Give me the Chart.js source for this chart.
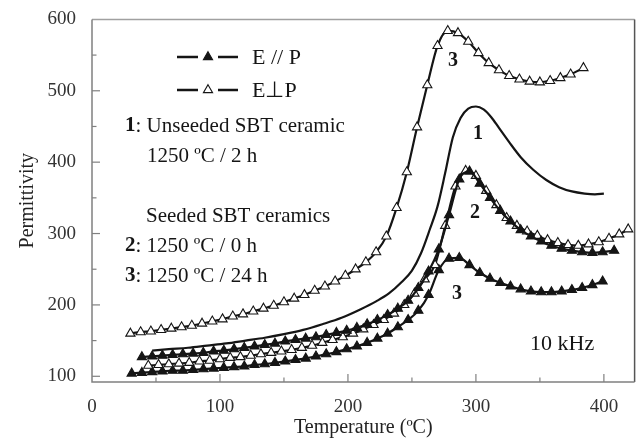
<!DOCTYPE html>
<html><head><meta charset="utf-8">
<script src="https://cdn.jsdelivr.net/npm/chart.js@4.4.0/dist/chart.umd.min.js"></script>
<style>html,body{margin:0;padding:0;background:#fff;}</style>
</head><body>
<canvas id="c" width="641" height="446"></canvas>
<script>
// ---- tick labels ----
const xTickValues = [0,50,100,150,200,250,300,350,400];
const yTickValues = [100,150,200,250,300,350,400,450,500,550,600];

// ---- curve 1: unseeded SBT (solid line) ----
const temp1 = [47,60,75,90,105,120,135,150,165,180,195,210,222,232,242,250,257,264,270,276,282,288,294,300,306,312,318,326,335,345,355,365,375,385,393,400];
const perm1 = [136,138,140,143,146,150,154,159,165,173,182,194,205,216,232,248,272,306,338,385,435,462,475,478,474,463,448,428,407,389,375,365,359,356,355,356];

// ---- curve 2: seeded 1250 C / 0 h ----
const temp2Par = [39,47,55,63,71,79,87,95,103,111,119,127,135,143,151,159,167,175,183,191,199,207,215,223,231,239,247,255,263,271,279,287,295,303,311,319,327,335,343,351,359,367,375,383,391,399,408];
const perm2Par = [127,128,129,130,131,132,133,135,136,138,140,142,144,146,149,151,153,155,158,161,164,168,173,179,186,195,206,224,247,278,326,376,387,370,350,332,317,305,296,289,283,279,276,274,273,274,276];
const temp2Perp = [44,52,60,68,76,84,92,100,108,116,124,132,140,148,156,164,172,180,188,196,204,212,220,228,236,244,252,260,268,276,284,292,300,308,316,324,332,340,348,356,364,372,380,388,396,404,412,419];
const perm2Perp = [115,116,117,118,119,121,122,124,126,127,129,131,133,135,137,140,143,147,151,155,160,166,172,179,188,200,216,236,256,311,366,388,381,360,340,322,311,303,297,291,287,284,283,285,288,293,299,306];

// ---- curve 3: seeded 1250 C / 24 h ----
const temp3Par = [31,39,47,55,63,71,79,87,95,103,111,119,127,135,143,151,159,167,175,183,191,199,207,215,223,231,239,247,255,263,271,279,287,295,303,311,319,327,335,343,351,359,367,375,383,391,399];
const perm3Par = [104,105,106,107,108,108,109,110,111,112,113,114,116,117,119,121,123,125,128,131,134,138,142,147,153,160,169,179,192,214,249,265,266,256,245,237,231,226,222,219,218,218,219,221,224,228,233];
const temp3Perp = [30,38,46,54,62,70,78,86,94,102,110,118,126,134,142,150,158,166,174,182,190,198,206,214,222,230,238,246,254,262,270,278,286,294,302,310,318,326,334,342,350,358,366,374,384];
const perm3Perp = [160,162,163,165,167,169,171,174,177,180,184,187,191,195,199,204,209,214,220,226,233,241,250,260,274,296,336,386,449,508,563,584,581,569,553,539,529,521,516,513,512,514,518,523,532];

const pts = (xs, ys) => xs.map((x, i) => ({x: x, y: ys[i]}));
const SERIF = '"Liberation Serif", "Times New Roman", serif';
const INK = '#151515';

function ds(xs, ys, kind) {
  return {
    data: pts(xs, ys),
    borderColor: INK,
    borderWidth: 2.2,
    cubicInterpolationMode: 'monotone',
    fill: false,
    pointStyle: 'triangle',
    pointRadius: kind === 'none' ? 0 : 5.3,
    pointBorderWidth: 1.1,
    pointBorderColor: INK,
    pointBackgroundColor: kind === 'filled' ? INK : '#ffffff'
  };
}

const decor = {
  id: 'decor',
  afterDatasetsDraw(chart) {
    const {ctx, chartArea: a, scales: {x, y}} = chart;
    ctx.save();
    // frame
    ctx.lineWidth = 1.5;
    ctx.strokeStyle = '#a0a0a0';
    ctx.beginPath(); ctx.moveTo(a.left, a.top); ctx.lineTo(a.right, a.top); ctx.stroke();
    ctx.strokeStyle = '#555';
    ctx.beginPath(); ctx.moveTo(a.right, a.top); ctx.lineTo(a.right, a.bottom); ctx.stroke();
    ctx.strokeStyle = '#808080';
    ctx.beginPath(); ctx.moveTo(a.left, a.top); ctx.lineTo(a.left, a.bottom); ctx.lineTo(a.right, a.bottom); ctx.stroke();
    // inward ticks
    ctx.lineWidth = 1.2;
    ctx.strokeStyle = '#808080';
    xTickValues.forEach(v => {
      if (v === x.min) return;
      const px = x.getPixelForValue(v);
      const len = v % 100 === 0 ? 8 : 4.5;
      ctx.beginPath(); ctx.moveTo(px, a.bottom); ctx.lineTo(px, a.bottom - len); ctx.stroke();
    });
    yTickValues.forEach(v => {
      if (v === y.max) return;
      const py = y.getPixelForValue(v);
      const len = v % 100 === 0 ? 8 : 4.5;
      ctx.beginPath(); ctx.moveTo(a.left, py); ctx.lineTo(a.left + len, py); ctx.stroke();
    });
    // legend
    const legendRow = (yy, filled, label) => {
      ctx.strokeStyle = INK; ctx.lineWidth = 2.5;
      ctx.beginPath(); ctx.moveTo(177, yy); ctx.lineTo(198, yy); ctx.moveTo(218, yy); ctx.lineTo(238, yy); ctx.stroke();
      ctx.fillStyle = filled ? INK : '#fff'; ctx.strokeStyle = INK; ctx.lineWidth = 1.1;
      Chart.helpers.drawPoint(ctx, {pointStyle: 'triangle', radius: 5.3, borderWidth: 1.1, rotation: 0}, 208, yy);
      ctx.fillStyle = INK; ctx.font = '22px ' + SERIF; ctx.textBaseline = 'middle'; ctx.textAlign = 'left';
      ctx.fillText(label, 252, yy + 1);
    };
    legendRow(57, true, 'E // P');
    legendRow(90, false, 'E\u22A5P');
    // text blocks
    const line = (xx, yy, bold, rest, size) => {
      ctx.fillStyle = INK; ctx.textBaseline = 'middle'; ctx.textAlign = 'left';
      let off = 0;
      if (bold) { ctx.font = 'bold ' + size + 'px ' + SERIF; ctx.fillText(bold, xx, yy); off = ctx.measureText(bold).width; }
      ctx.font = size + 'px ' + SERIF; ctx.fillText(rest, xx + off, yy);
    };
    line(125, 126, '1', ': Unseeded SBT ceramic', 21);
    line(147, 156, '', '1250 \u00BAC / 2 h', 21);
    line(146, 216, '', 'Seeded SBT ceramics', 21);
    line(125, 246, '2', ': 1250 \u00BAC / 0 h', 21);
    line(125, 276, '3', ': 1250 \u00BAC / 24 h', 21);
    line(530, 344, '', '10 kHz', 22);
    // curve numbers
    ctx.font = 'bold 20px ' + SERIF; ctx.textAlign = 'center'; ctx.textBaseline = 'middle';
    ctx.fillText('3', 453, 61);
    ctx.fillText('1', 478, 134);
    ctx.fillText('2', 475, 213);
    ctx.fillText('3', 457, 294);
    ctx.restore();
  }
};

new Chart(document.getElementById('c'), {
  type: 'line',
  data: {
    datasets: [
      ds(temp1, perm1, 'none'),
      ds(temp2Par, perm2Par, 'filled'),
      ds(temp2Perp, perm2Perp, 'open'),
      ds(temp3Par, perm3Par, 'filled'),
      ds(temp3Perp, perm3Perp, 'open')
    ]
  },
  options: {
    responsive: false,
    devicePixelRatio: 1,
    animation: false,
    layout: {padding: {top: 19, right: 3, left: 0, bottom: 0}},
    plugins: {legend: {display: false}, tooltip: {enabled: false}},
    scales: {
      x: {
        type: 'linear', min: 0, max: 424,
        afterBuildTicks: s => { s.ticks = xTickValues.map(v => ({value: v})); },
        afterFit: s => { s.height = 64; },
        grid: {display: false},
        border: {display: false},
        ticks: {callback: v => (v % 100 === 0 ? String(v) : ''), font: {family: SERIF, size: 19}, color: '#333', padding: 6, maxRotation: 0, autoSkip: false},
        title: {display: true, text: 'Temperature (\u00BAC)', font: {family: SERIF, size: 20}, color: '#222', padding: {top: 0, bottom: 6}}
      },
      y: {
        type: 'linear', min: 92, max: 600,
        afterBuildTicks: s => { s.ticks = yTickValues.map(v => ({value: v})); },
        afterFit: s => { s.width = 92; },
        grid: {display: false},
        border: {display: false},
        ticks: {callback: v => (v % 100 === 0 ? String(v) : ''), font: {family: SERIF, size: 19}, color: '#333', padding: 8, autoSkip: false},
        title: {display: true, text: 'Permittivity', font: {family: SERIF, size: 20}, color: '#222', padding: {top: 16, bottom: 0}}
      }
    }
  },
  plugins: [decor]
});
</script>
</body></html>
